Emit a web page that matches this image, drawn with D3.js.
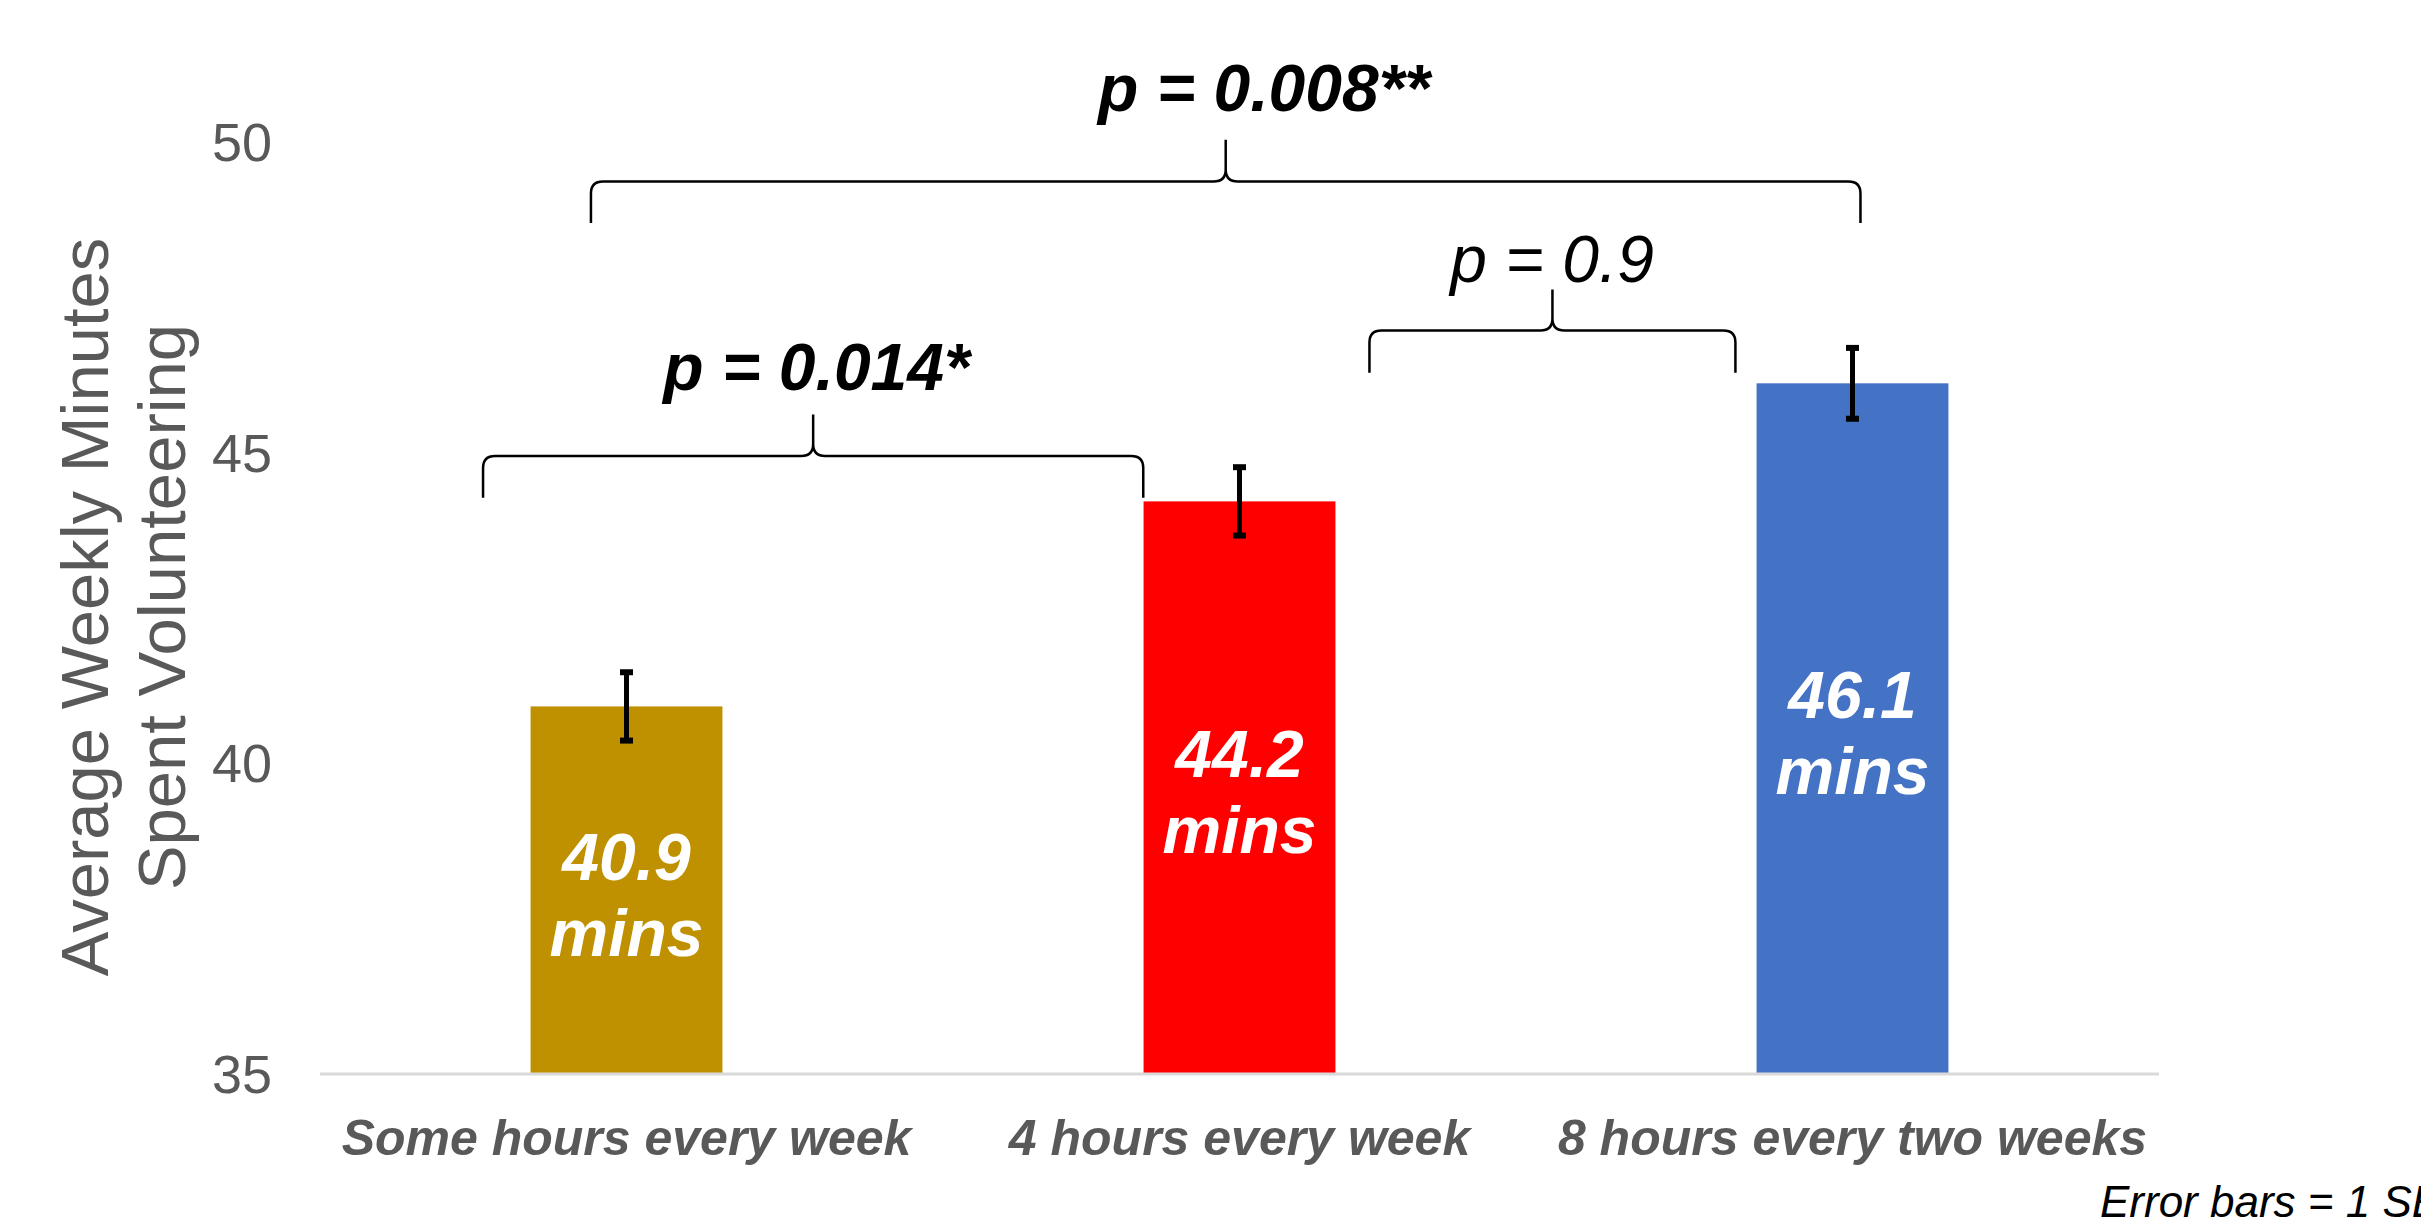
<!DOCTYPE html>
<html>
<head>
<meta charset="utf-8">
<script src="https://cdn.jsdelivr.net/npm/d3@7"></script>
<style>
  body { margin: 0; background: #fff; }
  #chart { width: 2421px; height: 1224px; }
  text { font-family: "Liberation Sans", Arial, sans-serif; }
</style>
</head>
<body>
<div id="chart"></div>
<script>
// data
let categories = ['Some hours every week', '4 hours every week', '8 hours every two weeks']
let means = [40.9, 44.2, 46.1]
let errors = [0.55, 0.55, 0.57]
let barLabels = ['40.9', '44.2', '46.1']
let colors = ['#BF9000', '#FF0000', '#4472C4']
let yTicks = [35, 40, 45, 50]

// comparisons: p labels and bracket spans (in category index units / value units)
let pLabels = ['p = 0.014*', 'p = 0.9', 'p = 0.008**']
let pBold = [true, false, true]
let bracketFrom = [-0.234, 1.212, -0.058]
let bracketTo = [0.843, 1.809, 2.013]
let bracketLevel = [44.93, 46.95, 49.35]
let bracketDrop = [0.67, 0.68, 0.67]
let bracketRise = [0.67, 0.66, 0.67]
let pLabelX = [0.31, 1.51, 1.04]
let pLabelY = [46.0, 47.73, 50.48]

let width = 2421
let height = 1224
let plotLeft = 320, plotRight = 2159
let plotTop = 141, plotBottom = 1073

let svg = d3.select('#chart')
  .append('svg')
  .attr('width', width)
  .attr('height', height)

let xScale = d3.scaleBand()
  .domain(categories)
  .range([plotLeft, plotRight])
  .paddingInner(0.687)
  .paddingOuter(0.3435)

// continuous position across categories, for brackets
let xPos = d3.scaleLinear()
  .domain([-0.5, categories.length - 0.5])
  .range([plotLeft, plotRight])

let yScale = d3.scaleLinear()
  .domain([35, 50])
  .range([plotBottom, plotTop])

// y axis (labels only)
let yAxis = svg.append('g')
  .attr('transform', 'translate(' + (plotLeft - 48) + ', 0)')
  .call(d3.axisLeft(yScale).tickValues(yTicks).tickSize(0).tickPadding(0))
yAxis.select('.domain').remove()
yAxis.selectAll('text')
  .attr('fill', '#595959')
  .attr('font-size', 54)
  .attr('dy', '0.36em')

// y title
let title = svg.append('text')
  .attr('transform', 'translate(0, ' + yScale(42.5) + ') rotate(-90)')
  .attr('text-anchor', 'middle')
  .attr('fill', '#595959')
  .attr('font-size', 67)
title.append('tspan').attr('x', 0).attr('y', 108).text('Average Weekly Minutes')
title.append('tspan').attr('x', 0).attr('y', 185).text('Spent Volunteering')

// bars
svg.selectAll('rect.bar')
  .data(means)
  .enter()
  .append('rect')
  .attr('class', 'bar')
  .attr('x', (d, i) => xScale(categories[i]))
  .attr('y', d => yScale(d))
  .attr('width', xScale.bandwidth())
  .attr('height', d => yScale(35) - yScale(d))
  .attr('fill', (d, i) => colors[i])

// x axis line
svg.append('line')
  .attr('x1', plotLeft).attr('x2', plotRight)
  .attr('y1', plotBottom + 1).attr('y2', plotBottom + 1)
  .attr('stroke', '#d9d9d9')
  .attr('stroke-width', 3)

// x axis labels
let xAxis = svg.append('g')
  .attr('transform', 'translate(0, ' + plotBottom + ')')
  .call(d3.axisBottom(xScale).tickSize(0).tickPadding(0))
xAxis.select('.domain').remove()
xAxis.selectAll('text')
  .attr('y', 82)
  .attr('dy', 0)
  .attr('fill', '#595959')
  .attr('font-size', 50)
  .attr('font-weight', 'bold')
  .attr('font-style', 'italic')

// error bars
let eb = svg.selectAll('g.err')
  .data(means)
  .enter()
  .append('g')
  .attr('class', 'err')
let cx = i => xScale(categories[i]) + xScale.bandwidth() / 2
eb.append('line')
  .attr('x1', (d, i) => cx(i)).attr('x2', (d, i) => cx(i))
  .attr('y1', (d, i) => yScale(d + errors[i]))
  .attr('y2', (d, i) => yScale(d - errors[i]))
  .attr('stroke', '#000').attr('stroke-width', 5)
;[1, -1].forEach(s => {
  eb.append('line')
    .attr('x1', (d, i) => cx(i) - 6.5).attr('x2', (d, i) => cx(i) + 6.5)
    .attr('y1', (d, i) => yScale(d + s * errors[i]))
    .attr('y2', (d, i) => yScale(d + s * errors[i]))
    .attr('stroke', '#000').attr('stroke-width', 6)
})

// value labels inside bars
let vl = svg.selectAll('text.val')
  .data(means)
  .enter()
  .append('text')
  .attr('class', 'val')
  .attr('text-anchor', 'middle')
  .attr('fill', '#fff')
  .attr('font-size', 66)
  .attr('font-weight', 'bold')
  .attr('font-style', 'italic')
vl.append('tspan')
  .attr('x', (d, i) => cx(i))
  .attr('y', d => (yScale(d) + yScale(35)) / 2 - 10)
  .text((d, i) => barLabels[i])
vl.append('tspan')
  .attr('x', (d, i) => cx(i))
  .attr('y', d => (yScale(d) + yScale(35)) / 2 + 66)
  .text('mins')

// brackets
let r = 12
let bracePath = i => {
  let x0 = xPos(bracketFrom[i]), x1 = xPos(bracketTo[i])
  let xm = (x0 + x1) / 2
  let y = yScale(bracketLevel[i])
  let yEnd = yScale(bracketLevel[i] - bracketDrop[i])
  let yPeak = yScale(bracketLevel[i] + bracketRise[i])
  let p = d3.path()
  p.moveTo(x0, yEnd)
  p.lineTo(x0, y + r)
  p.quadraticCurveTo(x0, y, x0 + r, y)
  p.lineTo(xm - r, y)
  p.quadraticCurveTo(xm, y, xm, y - r)
  p.lineTo(xm, yPeak)
  p.moveTo(xm, y - r)
  p.quadraticCurveTo(xm, y, xm + r, y)
  p.lineTo(x1 - r, y)
  p.quadraticCurveTo(x1, y, x1, y + r)
  p.lineTo(x1, yEnd)
  return p.toString()
}
svg.selectAll('path.brace')
  .data(pLabels)
  .enter()
  .append('path')
  .attr('class', 'brace')
  .attr('d', (d, i) => bracePath(i))
  .attr('fill', 'none')
  .attr('stroke', '#000')
  .attr('stroke-width', 2.5)

svg.selectAll('text.p')
  .data(pLabels)
  .enter()
  .append('text')
  .attr('class', 'p')
  .attr('x', (d, i) => xPos(pLabelX[i]))
  .attr('y', (d, i) => yScale(pLabelY[i]))
  .attr('text-anchor', 'middle')
  .attr('font-size', 66)
  .attr('font-style', 'italic')
  .attr('font-weight', (d, i) => pBold[i] ? 'bold' : 'normal')
  .attr('fill', '#000')
  .text(d => d)

// footnote (runs off the right edge, as in the original)
svg.append('text')
  .attr('x', 2100)
  .attr('y', 1217)
  .attr('font-size', 44)
  .attr('font-style', 'italic')
  .attr('fill', '#000')
  .text('Error bars = 1 SE')
</script>
</body>
</html>
